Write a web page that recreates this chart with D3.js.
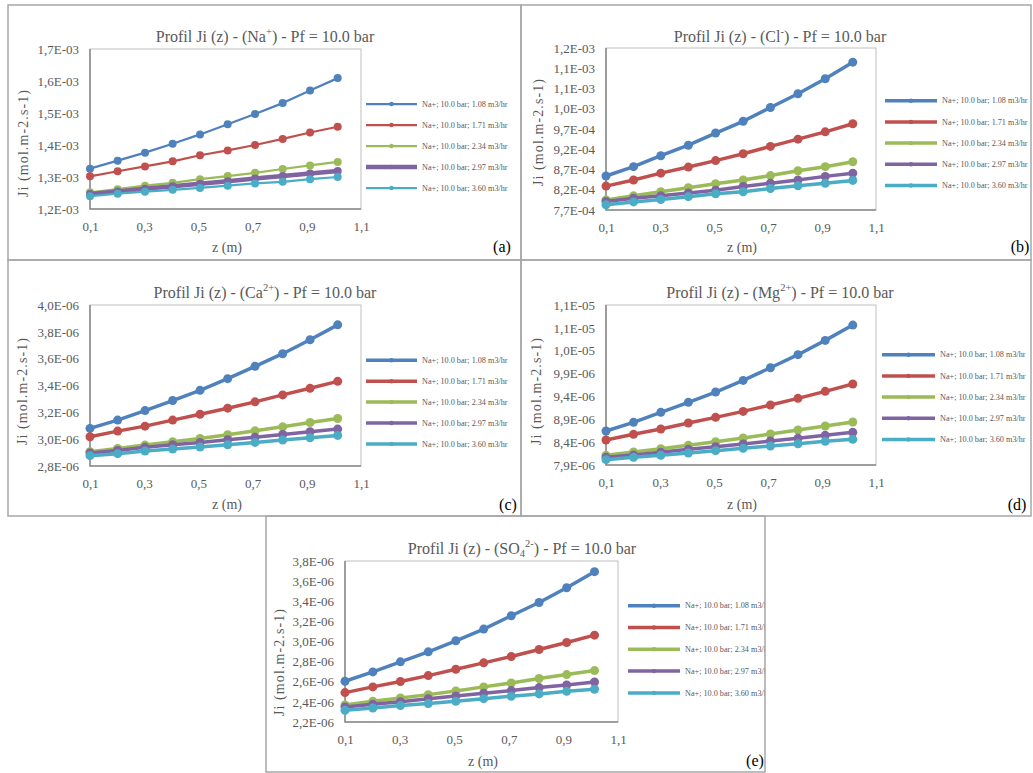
<!DOCTYPE html>
<html>
<head>
<meta charset="utf-8">
<script src="https://cdn.jsdelivr.net/npm/d3@7"></script>
<style>
  body { margin: 0; background: #fff; }
  svg { display: block; font-family: "Liberation Serif", "Times New Roman", serif; }
</style>
</head>
<body>
<svg id="fig" width="1033" height="773"></svg>
<script>
// z positions (m), same for every series
var zPos = [0.100, 0.202, 0.303, 0.405, 0.506, 0.608, 0.709, 0.811, 0.912, 1.014];

var seriesNames = ["Na+; 10.0 bar; 1.08 m3/hr", "Na+; 10.0 bar; 1.71 m3/hr", "Na+; 10.0 bar; 2.34 m3/hr",
                   "Na+; 10.0 bar; 2.97 m3/hr", "Na+; 10.0 bar; 3.60 m3/hr"];
var seriesColors = ["#4F81BD", "#C0504D", "#9BBB59", "#8064A2", "#4BACC6"];

// (a) Na+  (x 1E-03)
var na108 = [1.326, 1.351, 1.376, 1.404, 1.433, 1.465, 1.497, 1.531, 1.570, 1.609];
var na171 = [1.302, 1.318, 1.333, 1.349, 1.368, 1.383, 1.400, 1.419, 1.439, 1.457];
var na234 = [1.252, 1.262, 1.273, 1.282, 1.293, 1.303, 1.313, 1.325, 1.336, 1.347];
var na297 = [1.247, 1.255, 1.263, 1.271, 1.279, 1.287, 1.295, 1.303, 1.311, 1.319];
var na360 = [1.240, 1.248, 1.254, 1.260, 1.266, 1.273, 1.280, 1.285, 1.293, 1.300];
var naTicks = [1.2, 1.3, 1.4, 1.5, 1.6, 1.7];
var naTickLabels = ["1,2E-03", "1,3E-03", "1,4E-03", "1,5E-03", "1,6E-03", "1,7E-03"];

// (b) Cl-  (x 1E-03)
var cl108 = [0.854, 0.877, 0.904, 0.930, 0.960, 0.989, 1.023, 1.057, 1.094, 1.135];
var cl171 = [0.829, 0.844, 0.861, 0.876, 0.892, 0.909, 0.927, 0.945, 0.963, 0.983];
var cl234 = [0.795, 0.805, 0.815, 0.825, 0.835, 0.844, 0.855, 0.867, 0.877, 0.889];
var cl297 = [0.791, 0.799, 0.805, 0.812, 0.819, 0.828, 0.836, 0.844, 0.853, 0.861];
var cl360 = [0.783, 0.790, 0.796, 0.803, 0.810, 0.815, 0.823, 0.830, 0.836, 0.843];
var clTicks = [0.77, 0.82, 0.87, 0.92, 0.97, 1.02, 1.07, 1.12, 1.17];
var clTickLabels = ["7,7E-04", "8,2E-04", "8,7E-04", "9,2E-04", "9,7E-04", "1,0E-03", "1,1E-03", "1,1E-03", "1,2E-03"];

// (c) Ca2+  (x 1E-06)
var ca108 = [3.080, 3.142, 3.213, 3.288, 3.364, 3.451, 3.543, 3.637, 3.741, 3.852];
var ca171 = [3.018, 3.060, 3.097, 3.142, 3.186, 3.231, 3.278, 3.330, 3.379, 3.431];
var ca234 = [2.906, 2.931, 2.956, 2.981, 3.005, 3.033, 3.062, 3.092, 3.124, 3.154];
var ca297 = [2.897, 2.916, 2.939, 2.958, 2.976, 2.996, 3.015, 3.035, 3.055, 3.075];
var ca360 = [2.877, 2.892, 2.911, 2.926, 2.941, 2.958, 2.976, 2.993, 3.010, 3.028];
var caTicks = [2.8, 3.0, 3.2, 3.4, 3.6, 3.8, 4.0];
var caTickLabels = ["2,8E-06", "3,0E-06", "3,2E-06", "3,4E-06", "3,6E-06", "3,8E-06", "4,0E-06"];

// (d) Mg2+  (x 1E-06)
var mg108 = [8.643, 8.833, 9.052, 9.270, 9.496, 9.751, 10.028, 10.313, 10.626, 10.961];
var mg171 = [8.447, 8.571, 8.687, 8.818, 8.942, 9.073, 9.212, 9.358, 9.511, 9.671];
var mg234 = [8.111, 8.184, 8.257, 8.330, 8.410, 8.490, 8.578, 8.665, 8.753, 8.840];
var mg297 = [8.068, 8.119, 8.177, 8.243, 8.301, 8.359, 8.425, 8.483, 8.549, 8.614];
var mg360 = [8.017, 8.068, 8.111, 8.162, 8.213, 8.264, 8.315, 8.366, 8.417, 8.461];
var mgTicks = [7.9, 8.4, 8.9, 9.4, 9.9, 10.4, 10.9, 11.4];
var mgTickLabels = ["7,9E-06", "8,4E-06", "8,9E-06", "9,4E-06", "9,9E-06", "1,0E-05", "1,1E-05", "1,1E-05"];

// (e) SO4 2-  (x 1E-06)
var so108 = [2.605, 2.698, 2.798, 2.897, 3.007, 3.123, 3.256, 3.388, 3.534, 3.694];
var so171 = [2.492, 2.549, 2.602, 2.661, 2.724, 2.788, 2.851, 2.920, 2.990, 3.063];
var so234 = [2.369, 2.406, 2.439, 2.472, 2.509, 2.549, 2.588, 2.632, 2.671, 2.711];
var so297 = [2.349, 2.376, 2.402, 2.432, 2.459, 2.485, 2.512, 2.542, 2.568, 2.598];
var so360 = [2.316, 2.339, 2.363, 2.383, 2.406, 2.432, 2.456, 2.479, 2.505, 2.525];
var soTicks = [2.2, 2.4, 2.6, 2.8, 3.0, 3.2, 3.4, 3.6, 3.8];
var soTickLabels = ["2,2E-06", "2,4E-06", "2,6E-06", "2,8E-06", "3,0E-06", "3,2E-06", "3,4E-06", "3,6E-06", "3,8E-06"];

var xTicks = [0.1, 0.3, 0.5, 0.7, 0.9, 1.1];
var xTickLabels = ["0,1", "0,3", "0,5", "0,7", "0,9", "1,1"];

var svg = d3.select("#fig");
var grey = "#595959";

// panel layouts (pixel boxes only)
var panels = [
  {id: "a", box: [8, 5, 521, 260], plot: [90, 49, 361, 209], title: [265, 42], ion: ["Na", "", "+"],
   xlab: [227, 252], ylab: [23, 143], tag: [502, 252], leg: [104, 21, 366, 417],
   series: [na108, na171, na234, na297, na360], ticks: naTicks, tickLabels: naTickLabels,
   widths: [2.25, 2.25, 2.25, 4.5, 2.25], r: 4},
  {id: "b", box: [521, 5, 1031, 260], plot: [606, 48, 876, 210], title: [780, 42], ion: ["Cl", "", "-"],
   xlab: [742, 252], ylab: [538, 132], tag: [1020, 252], leg: [100.7, 21.2, 885, 937],
   series: [cl108, cl171, cl234, cl297, cl360], ticks: clTicks, tickLabels: clTickLabels,
   widths: [3.5, 3.5, 3.5, 3.5, 3.5], r: 4.5},
  {id: "c", box: [8, 260, 521, 516], plot: [90, 305, 361, 466], title: [265, 298], ion: ["Ca", "", "2+"],
   xlab: [227, 509], ylab: [22, 391], tag: [508, 510], leg: [360.3, 20.9, 366, 417],
   series: [ca108, ca171, ca234, ca297, ca360], ticks: caTicks, tickLabels: caTickLabels,
   widths: [3.5, 3.5, 3.5, 3.5, 3.5], r: 4.5},
  {id: "d", box: [521, 260, 1031, 516], plot: [606, 305, 876, 465], title: [780, 298], ion: ["Mg", "", "2+"],
   xlab: [742, 509], ylab: [536, 391], tag: [1017, 510], leg: [354.7, 21.2, 882, 935],
   series: [mg108, mg171, mg234, mg297, mg360], ticks: mgTicks, tickLabels: mgTickLabels,
   widths: [3.5, 3.5, 3.5, 3.5, 3.5], r: 4.5},
  {id: "e", box: [266, 516, 765, 772], plot: [345, 561, 618, 722], title: [522, 554], ion: ["SO", "4", "2-"],
   xlab: [483, 766], ylab: [279, 662], tag: [755, 766], leg: [605.7, 21.8, 628, 680],
   series: [so108, so171, so234, so297, so360], ticks: soTicks, tickLabels: soTickLabels,
   widths: [3.5, 3.5, 3.5, 3.5, 3.5], r: 4.5}
];

panels.forEach(function(p) { drawPanel(p); });

function drawPanel(p) {
  var b = p.box, pl = p.plot;
  var clipId = "clip" + p.id;
  svg.append("clipPath").attr("id", clipId).append("rect")
    .attr("x", b[0]).attr("y", b[1]).attr("width", b[2] - b[0]).attr("height", b[3] - b[1]);
  var g = svg.append("g").attr("clip-path", "url(#" + clipId + ")");

  // outer frame
  svg.append("rect").attr("x", b[0]).attr("y", b[1]).attr("width", b[2] - b[0]).attr("height", b[3] - b[1])
    .attr("fill", "none").attr("stroke", "#a6a6a6").attr("stroke-width", 1.5);

  var x = d3.scaleLinear().domain([0.1, 1.1]).range([pl[0], pl[2]]);
  var y = d3.scaleLinear().domain([p.ticks[0], p.ticks[p.ticks.length - 1]]).range([pl[3], pl[1]]);

  // plot area border
  g.append("rect").attr("x", pl[0]).attr("y", pl[1]).attr("width", pl[2] - pl[0]).attr("height", pl[3] - pl[1])
    .attr("fill", "none").attr("stroke", "#bfbfbf").attr("stroke-width", 1);
  g.append("path").attr("d", "M" + pl[0] + "," + pl[1] + "V" + pl[3] + "H" + pl[2])
    .attr("fill", "none").attr("stroke", "#898989").attr("stroke-width", 1.5);

  // axes
  var yAx = g.append("g").attr("transform", "translate(" + pl[0] + ",0)")
    .call(d3.axisLeft(y).tickValues(p.ticks).tickSize(0).tickPadding(11)
      .tickFormat(function(d, i) { return p.tickLabels[i]; }));
  var xAx = g.append("g").attr("transform", "translate(0," + pl[3] + ")")
    .call(d3.axisBottom(x).tickValues(xTicks).tickSize(0).tickPadding(13)
      .tickFormat(function(d, i) { return xTickLabels[i]; }));
  [yAx, xAx].forEach(function(ax) {
    ax.select(".domain").remove();
    ax.selectAll("text").attr("fill", grey).style("font-size", "13px")
      .style("font-family", "'Liberation Serif', serif");
  });

  // title with super/subscripts
  var t = g.append("text").attr("x", p.title[0]).attr("y", p.title[1]).attr("text-anchor", "middle")
    .attr("fill", grey).style("font-size", "16px");
  t.append("tspan").text("Profil Ji (z) - (" + p.ion[0]);
  if (p.ion[1]) t.append("tspan").attr("dy", 3).style("font-size", "10.5px").text(p.ion[1]);
  t.append("tspan").attr("dy", p.ion[1] ? -10 : -7).style("font-size", "10.5px").text(p.ion[2]);
  t.append("tspan").attr("dy", 7).text(") - Pf = 10.0 bar");

  // axis titles
  g.append("text").attr("x", p.xlab[0]).attr("y", p.xlab[1]).attr("text-anchor", "middle")
    .attr("fill", grey).style("font-size", "14px").text("z (m)");
  g.append("text").attr("transform", "translate(" + p.ylab[0] + "," + p.ylab[1] + ") rotate(-90)")
    .attr("text-anchor", "middle").attr("dy", "0.35em")
    .attr("fill", grey).style("font-size", "14px").style("letter-spacing", "1.1px").text("Ji (mol.m-2.s-1)");

  // panel tag
  g.append("text").attr("x", p.tag[0]).attr("y", p.tag[1]).attr("text-anchor", "middle")
    .attr("fill", "#000").style("font-size", "16px").text("(" + p.id + ")");

  // series
  var line = d3.line().x(function(d, i) { return x(zPos[i]); }).y(function(d) { return y(d); });
  p.series.forEach(function(s, k) {
    g.append("path").datum(s).attr("d", line).attr("fill", "none")
      .attr("stroke", seriesColors[k]).attr("stroke-width", p.widths[k]).attr("stroke-linejoin", "round");
    g.selectAll(".m" + k).data(s).enter().append("circle").attr("class", "m" + k)
      .attr("cx", function(d, i) { return x(zPos[i]); }).attr("cy", function(d) { return y(d); })
      .attr("r", p.r).attr("fill", seriesColors[k]);
  });

  // legend
  var lg = p.leg;
  seriesNames.forEach(function(name, k) {
    var ly = lg[0] + k * lg[1];
    g.append("line").attr("x1", lg[2]).attr("x2", lg[3]).attr("y1", ly).attr("y2", ly)
      .attr("stroke", seriesColors[k]).attr("stroke-width", p.widths[k]);
    g.append("circle").attr("cx", (lg[2] + lg[3]) / 2).attr("cy", ly).attr("r", 2.2).attr("fill", seriesColors[k]);
    g.append("text").attr("x", lg[3] + 5).attr("y", ly).attr("dy", "0.33em")
      .attr("fill", grey).style("font-size", "8.2px").text(name);
  });
}
</script>
</body>
</html>
